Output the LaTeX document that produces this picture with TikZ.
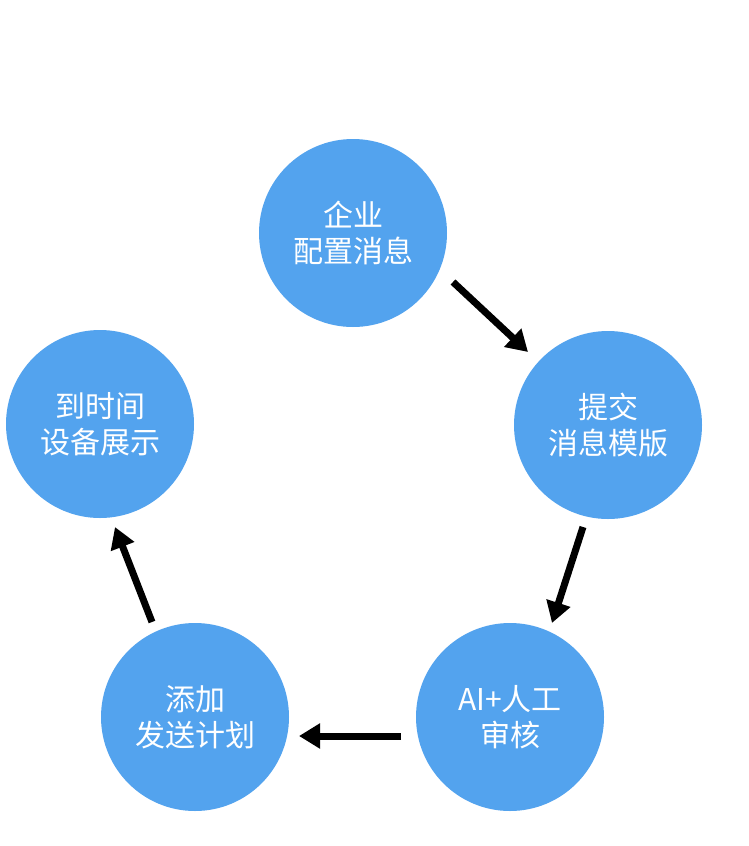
\documentclass[tikz,border=0pt]{standalone}
\usepackage{fontspec}
\newfontfamily\cjk{Noto Sans CJK SC}
\usetikzlibrary{arrows.meta}
\definecolor{stepblue}{RGB}{83,163,238}
\begin{document}
\begin{tikzpicture}[x=1pt,y=-1pt,
  stepcircle/.style={circle, fill=stepblue, minimum size=188pt, inner sep=0pt,
    text=white, font=\cjk\fontsize{30}{36}\selectfont, align=center},
  flowarrow/.style={line width=7pt, -{Triangle[length=21pt,width=24pt]}}]
\fill[white] (0,0) rectangle (748,846);
\useasboundingbox (0,0) rectangle (748,846);
\node[stepcircle] (n1) at (353,233) {企业\\配置消息};
\node[stepcircle] (n2) at (608,425) {提交\\消息模版};
\node[stepcircle] (n3) at (510,717) {AI+人工\\审核};
\node[stepcircle] (n4) at (195,717) {添加\\发送计划};
\node[stepcircle] (n5) at (100,424) {到时间\\设备展示};
\coordinate (a1s) at (453,282); \coordinate (a1e) at (528,352);
\coordinate (a2s) at (583,527); \coordinate (a2e) at (552,623);
\coordinate (a3s) at (401,736); \coordinate (a3e) at (299,736);
\coordinate (a4s) at (152,622); \coordinate (a4e) at (115,527);
\draw[flowarrow] (a1s) -- (a1e);
\draw[flowarrow] (a2s) -- (a2e);
\draw[flowarrow] (a3s) -- (a3e);
\draw[flowarrow] (a4s) -- (a4e);
\end{tikzpicture}
\end{document}
